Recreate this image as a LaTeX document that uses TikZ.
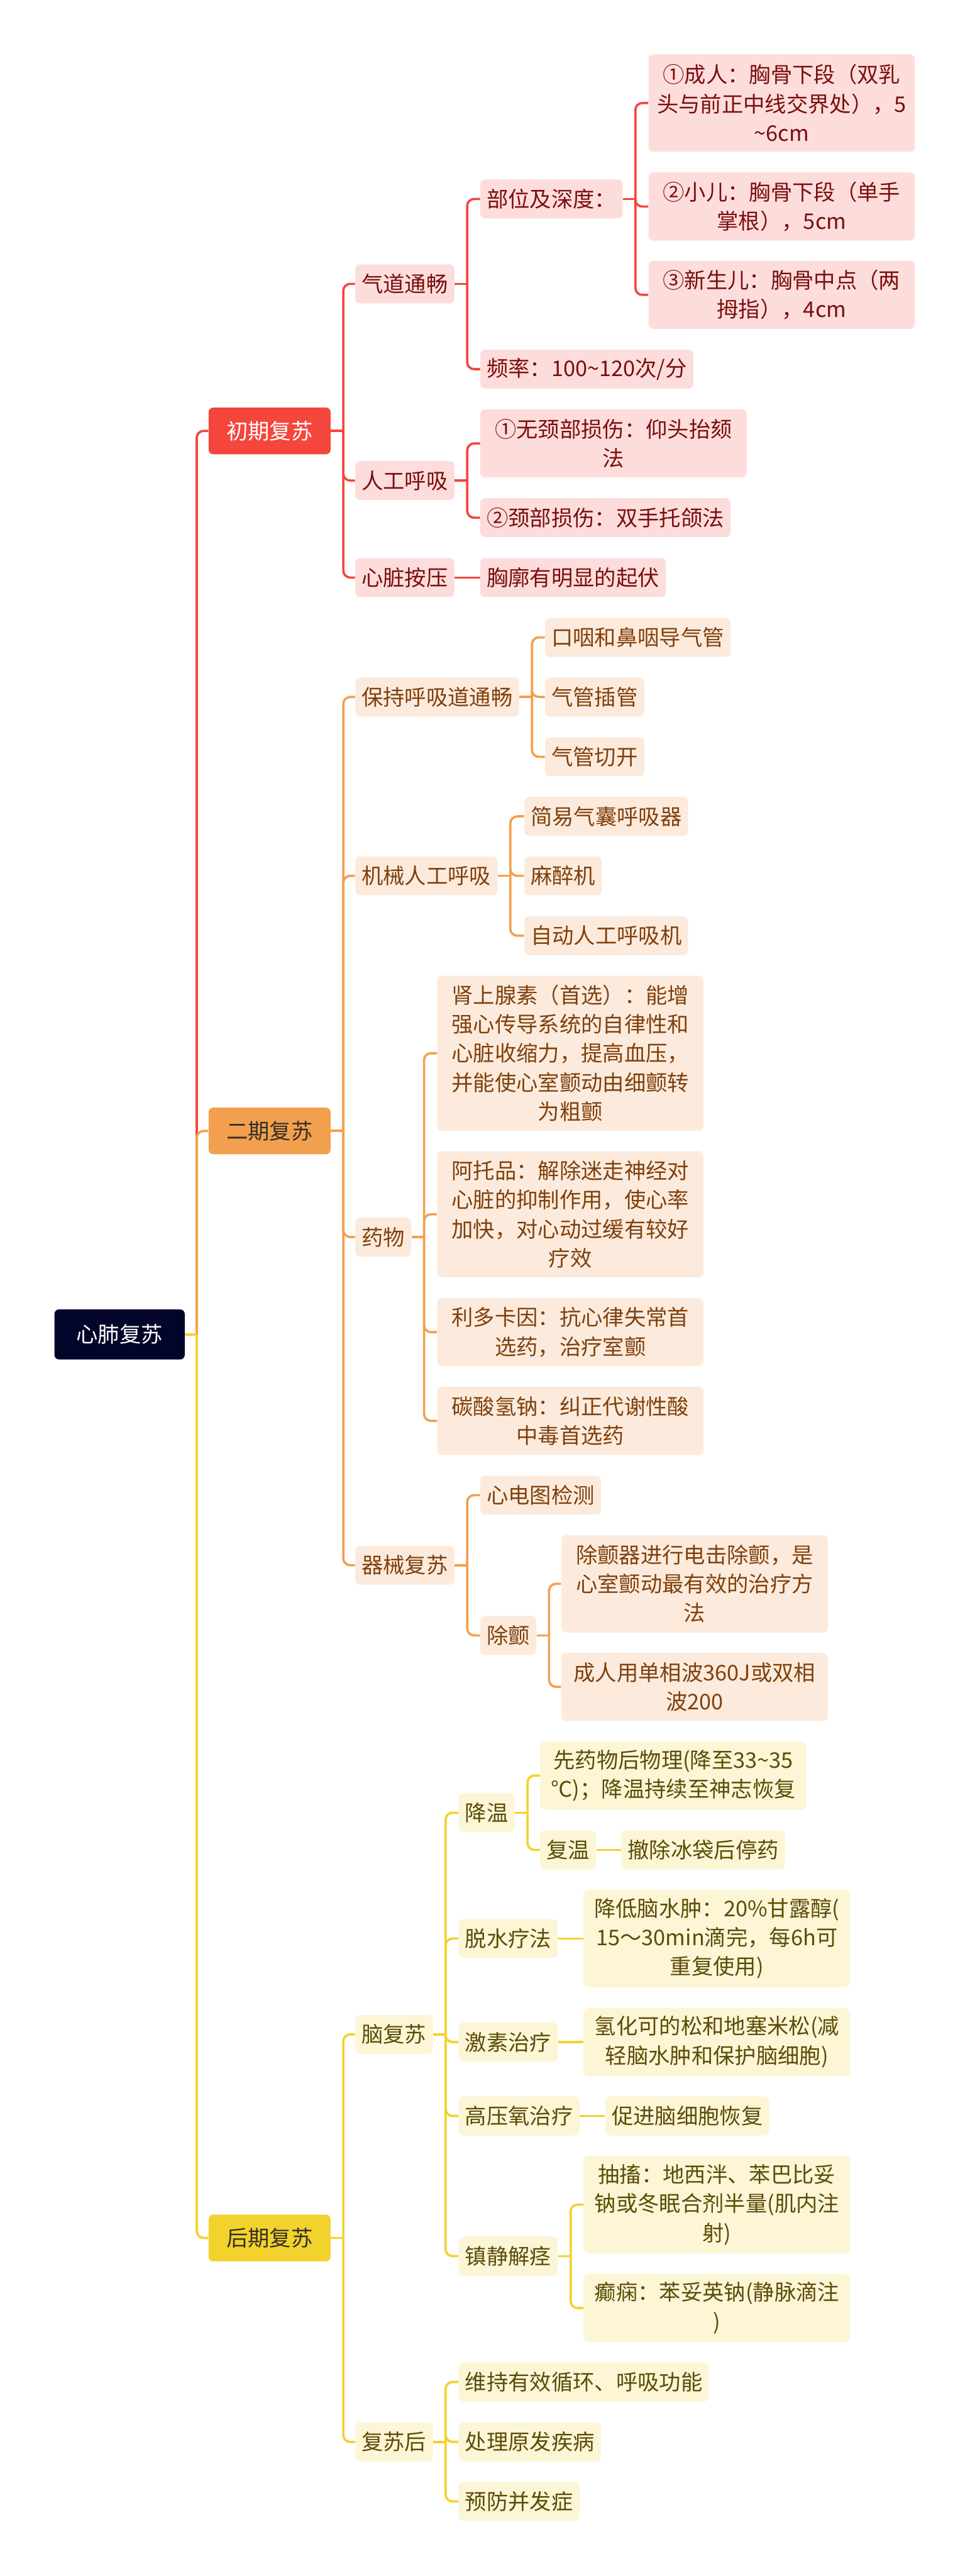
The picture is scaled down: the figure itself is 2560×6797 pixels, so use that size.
\documentclass[tikz,border=0pt]{standalone}
\usepackage{fontspec}
\setmainfont{Noto Sans CJK SC}
\usepackage{tikz}
\definecolor{rootnavy}{RGB}{3, 4, 42}
\definecolor{redmain}{RGB}{244, 70, 60}
\definecolor{redsoft}{RGB}{253, 221, 219}
\definecolor{redtext}{RGB}{122, 14, 14}
\definecolor{orangemain}{RGB}{243, 160, 78}
\definecolor{orangesoft}{RGB}{252, 235, 221}
\definecolor{orangetext}{RGB}{128, 64, 12}
\definecolor{yellowmain}{RGB}{242, 210, 44}
\definecolor{yellowsoft}{RGB}{252, 246, 214}
\definecolor{yellowtext}{RGB}{92, 76, 8}
\definecolor{stagetext}{RGB}{52, 48, 40}
\usetikzlibrary{positioning}

\begin{document}
\begin{tikzpicture}[
    x=0.01cm, y=-0.01cm,
    mapbox/.style={
        rectangle,
        rounded corners=0.13cm,
        anchor=west,
        inner xsep=0.17cm,
        inner ysep=0.08cm,
        minimum height=1.03cm,
        align=center,
        font=\fontsize{16.2pt}{21.9pt}\selectfont
    },
    topic/.style={mapbox, fill=rootnavy, text=white, inner xsep=0.58cm, minimum height=1.32cm, rounded corners=0.12cm},
    stage/.style={mapbox, inner xsep=0.47cm, minimum height=1.23cm, rounded corners=0.12cm},
    redleaf/.style={mapbox, fill=redsoft, text=redtext},
    orangeleaf/.style={mapbox, fill=orangesoft, text=orangetext},
    yellowleaf/.style={mapbox, fill=yellowsoft, text=yellowtext},
    wrap/.style={text width=6.69cm},
    h2/.style={minimum height=1.80cm},
    h3/.style={minimum height=2.57cm},
    h4/.style={minimum height=3.33cm},
    h5/.style={minimum height=4.09cm},
    link/.style={line width=0.06cm, rounded corners=0.18cm}
]
    \useasboundingbox (0,0) rectangle (2560,6797);

    % Root
    \node[topic] (root) at (143,3521) {心肺复苏};

    % Stages
    \node[stage, fill=redmain, text=white] (chuqi) at (550,1137) {初期复苏};
    \node[stage, fill=orangemain, text=stagetext] (erqi) at (550,2984) {二期复苏};
    \node[stage, fill=yellowmain, text=stagetext] (houqi) at (550,5905) {后期复苏};

    % 初期复苏
    \node[redleaf] (qidao) at (937,749) {气道通畅};
    \node[redleaf] (rengong) at (937,1268) {人工呼吸};
    \node[redleaf] (xinzang) at (937,1524) {心脏按压};
    \node[redleaf] (buwei) at (1267,525) {部位及深度：};
    \node[redleaf] (pinlv) at (1267,974) {频率：100\textasciitilde120次/分};
    \node[redleaf, wrap, h2] (wujing) at (1267,1170) {①无颈部损伤：仰头抬颏\\法};
    \node[redleaf] (jingbu) at (1267,1366) {②颈部损伤：双手托颌法};
    \node[redleaf] (xionglang) at (1267,1524) {胸廓有明显的起伏};
    \node[redleaf, wrap, h3] (chengren) at (1711,272) {①成人：胸骨下段（双乳\\头与前正中线交界处），5\\\textasciitilde6cm};
    \node[redleaf, wrap, h2] (xiaoer) at (1711,545) {②小儿：胸骨下段（单手\\掌根），5cm};
    \node[redleaf, wrap, h2] (xinsheng) at (1711,778) {③新生儿：胸骨中点（两\\拇指），4cm};

    % 二期复苏
    \node[orangeleaf] (baochi) at (937,1839) {保持呼吸道通畅};
    \node[orangeleaf] (jixie) at (937,2311) {机械人工呼吸};
    \node[orangeleaf] (yaowu) at (937,3264) {药物};
    \node[orangeleaf] (qixie) at (937,4130) {器械复苏};
    \node[orangeleaf] (kouyan) at (1438,1682) {口咽和鼻咽导气管};
    \node[orangeleaf] (chaguan) at (1438,1839) {气管插管};
    \node[orangeleaf] (qieka) at (1438,1997) {气管切开};
    \node[orangeleaf] (jianyi) at (1383,2154) {简易气囊呼吸器};
    \node[orangeleaf] (mazui) at (1383,2311) {麻醉机};
    \node[orangeleaf] (zidong) at (1383,2469) {自动人工呼吸机};
    \node[orangeleaf, wrap, h5] (shenshang) at (1153,2779) {肾上腺素（首选）：能增\\强心传导系统的自律性和\\心脏收缩力，提高血压，\\并能使心室颤动由细颤转\\为粗颤};
    \node[orangeleaf, wrap, h4] (atuopin) at (1153,3204) {阿托品：解除迷走神经对\\心脏的抑制作用，使心率\\加快，对心动过缓有较好\\疗效};
    \node[orangeleaf, wrap, h2] (liduo) at (1153,3515) {利多卡因：抗心律失常首\\选药，治疗室颤};
    \node[orangeleaf, wrap, h2] (tansuan) at (1153,3749) {碳酸氢钠：纠正代谢性酸\\中毒首选药};
    \node[orangeleaf] (xindian) at (1267,3945) {心电图检测};
    \node[orangeleaf] (chuchan) at (1267,4315) {除颤};
    \node[orangeleaf, wrap, h3] (chuchanqi) at (1481,4179) {除颤器进行电击除颤，是\\心室颤动最有效的治疗方\\法};
    \node[orangeleaf, wrap, h2] (danxiang) at (1481,4451) {成人用单相波360J或双相\\波200};

    % 后期复苏
    \node[yellowleaf] (naofusu) at (937,5368) {脑复苏};
    \node[yellowleaf] (fusuhou) at (937,6443) {复苏后};
    \node[yellowleaf] (jiangwen) at (1210,4783) {降温};
    \node[yellowleaf] (tuoshui) at (1210,5115) {脱水疗法};
    \node[yellowleaf] (jisu) at (1210,5388) {激素治疗};
    \node[yellowleaf] (gaoya) at (1210,5583) {高压氧治疗};
    \node[yellowleaf] (zhenjing) at (1210,5953) {镇静解痉};
    \node[yellowleaf] (weichi) at (1210,6285) {维持有效循环、呼吸功能};
    \node[yellowleaf] (chuli) at (1210,6443) {处理原发疾病};
    \node[yellowleaf] (yufang) at (1210,6600) {预防并发症};
    \node[yellowleaf, wrap, h2] (xianyao) at (1425,4685) {先药物后物理(降至33\textasciitilde35\\℃)；降温持续至神志恢复};
    \node[yellowleaf] (fuwen) at (1425,4881) {复温};
    \node[yellowleaf] (chechu) at (1639,4881) {撤除冰袋后停药};
    \node[yellowleaf, wrap, h3] (jiangdi) at (1540,5115) {降低脑水肿：20\%甘露醇(\\15～30min滴完，每6h可\\重复使用)};
    \node[yellowleaf, wrap, h2] (qinghua) at (1540,5388) {氢化可的松和地塞米松(减\\轻脑水肿和保护脑细胞)};
    \node[yellowleaf] (cujin) at (1597,5583) {促进脑细胞恢复};
    \node[yellowleaf, wrap, h3] (chouchu) at (1540,5817) {抽搐：地西泮、苯巴比妥\\钠或冬眠合剂半量(肌内注\\射)};
    \node[yellowleaf, wrap, h2] (dianxian) at (1540,6090) {癫痫：苯妥英钠(静脉滴注\\)};

    % Trunk
    \coordinate (rootJ) at ([xshift=0.31cm]root.east);
    \draw[link, redmain] (rootJ) |- (chuqi.west);
    \draw[link, orangemain] (rootJ) |- (erqi.west);
    \draw[link, yellowmain] (rootJ) |- (houqi.west);
    \draw[link, yellowmain] (root.east) -- (rootJ);

    % Red branch
    \draw[link, redmain] (chuqi.east) -- ++(33,0) coordinate (chuqiJ);
    \foreach \k in {qidao,rengong,xinzang} \draw[link, redmain] (chuqiJ) |- (\k.west);
    \draw[link, redmain] (qidao.east) -- ++(33,0) coordinate (qidaoJ);
    \foreach \k in {buwei,pinlv} \draw[link, redmain] (qidaoJ) |- (\k.west);
    \draw[link, redmain] (buwei.east) -- ++(33,0) coordinate (buweiJ);
    \foreach \k in {chengren,xiaoer,xinsheng} \draw[link, redmain] (buweiJ) |- (\k.west);
    \draw[link, redmain] (rengong.east) -- ++(33,0) coordinate (rengongJ);
    \foreach \k in {wujing,jingbu} \draw[link, redmain] (rengongJ) |- (\k.west);
    \draw[link, redmain] (xinzang.east) -- (xionglang.west);

    % Orange branch
    \draw[link, orangemain] (erqi.east) -- ++(33,0) coordinate (erqiJ);
    \foreach \k in {baochi,jixie,yaowu,qixie} \draw[link, orangemain] (erqiJ) |- (\k.west);
    \draw[link, orangemain] (baochi.east) -- ++(33,0) coordinate (baochiJ);
    \foreach \k in {kouyan,chaguan,qieka} \draw[link, orangemain] (baochiJ) |- (\k.west);
    \draw[link, orangemain] (jixie.east) -- ++(33,0) coordinate (jixieJ);
    \foreach \k in {jianyi,mazui,zidong} \draw[link, orangemain] (jixieJ) |- (\k.west);
    \draw[link, orangemain] (yaowu.east) -- ++(33,0) coordinate (yaowuJ);
    \foreach \k in {shenshang,atuopin,liduo,tansuan} \draw[link, orangemain] (yaowuJ) |- (\k.west);
    \draw[link, orangemain] (qixie.east) -- ++(33,0) coordinate (qixieJ);
    \foreach \k in {xindian,chuchan} \draw[link, orangemain] (qixieJ) |- (\k.west);
    \draw[link, orangemain] (chuchan.east) -- ++(33,0) coordinate (chuchanJ);
    \foreach \k in {chuchanqi,danxiang} \draw[link, orangemain] (chuchanJ) |- (\k.west);

    % Yellow branch
    \draw[link, yellowmain] (houqi.east) -- ++(33,0) coordinate (houqiJ);
    \foreach \k in {naofusu,fusuhou} \draw[link, yellowmain] (houqiJ) |- (\k.west);
    \draw[link, yellowmain] (naofusu.east) -- ++(33,0) coordinate (naofusuJ);
    \foreach \k in {jiangwen,tuoshui,jisu,gaoya,zhenjing} \draw[link, yellowmain] (naofusuJ) |- (\k.west);
    \draw[link, yellowmain] (jiangwen.east) -- ++(33,0) coordinate (jiangwenJ);
    \foreach \k in {xianyao,fuwen} \draw[link, yellowmain] (jiangwenJ) |- (\k.west);
    \draw[link, yellowmain] (fuwen.east) -- (chechu.west);
    \draw[link, yellowmain] (tuoshui.east) -- (jiangdi.west);
    \draw[link, yellowmain] (jisu.east) -- (qinghua.west);
    \draw[link, yellowmain] (gaoya.east) -- (cujin.west);
    \draw[link, yellowmain] (zhenjing.east) -- ++(33,0) coordinate (zhenjingJ);
    \foreach \k in {chouchu,dianxian} \draw[link, yellowmain] (zhenjingJ) |- (\k.west);
    \draw[link, yellowmain] (fusuhou.east) -- ++(33,0) coordinate (fusuhouJ);
    \foreach \k in {weichi,chuli,yufang} \draw[link, yellowmain] (fusuhouJ) |- (\k.west);
\end{tikzpicture}
\end{document}
